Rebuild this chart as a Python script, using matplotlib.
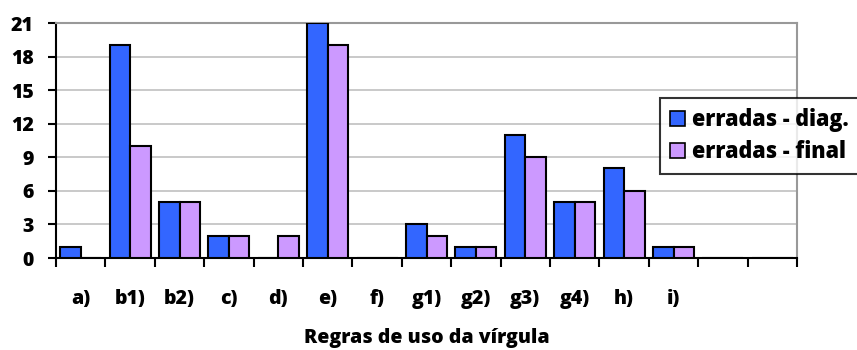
import matplotlib
matplotlib.use("Agg")
import matplotlib.pyplot as plt
import numpy as np

categories = ["a)", "b1)", "b2)", "c)", "d)", "e)", "f)", "g1)", "g2)", "g3)", "g4)", "h)", "i)", "", ""]
erradas_diag = [1, 19, 5, 2, 0, 21, 0, 3, 1, 11, 5, 8, 1, 0, 0]
erradas_final = [0, 10, 5, 2, 2, 19, 0, 2, 1, 9, 5, 6, 1, 0, 0]
series_labels = ["erradas - diag.", "erradas - final"]
y_ticks = [0, 3, 6, 9, 12, 15, 18, 21]

WEIGHT = "heavy"
plt.rcParams["font.family"] = ["Open Sans", "DejaVu Sans"]
plt.rcParams["font.weight"] = WEIGHT

fig = plt.figure(figsize=(8.57, 3.5), dpi=100)
W, H = 857, 350
ax = fig.add_axes([56 / W, (H - 258) / H, (797 - 56) / W, (258 - 23) / H])

x = np.arange(len(categories))
bw = 0.415
blue = "#3366FF"
lilac = "#CC99FF"
ax.bar(x - bw / 2, erradas_diag, bw, color=blue, edgecolor="black", linewidth=1.5,
       label=series_labels[0], zorder=3)
ax.bar(x + bw / 2, erradas_final, bw, color=lilac, edgecolor="black", linewidth=1.5,
       label=series_labels[1], zorder=3)

ax.set_xlim(-0.5, len(categories) - 0.5)
ax.set_ylim(0, 21)
ax.set_yticks(y_ticks)
ax.set_yticklabels([str(v) for v in y_ticks], fontsize=14, fontweight=WEIGHT)
ax.yaxis.grid(True, color="#C0C0C0", linewidth=1.2, zorder=0)
ax.set_axisbelow(True)

# category labels centred, ticks on category boundaries
ax.set_xticks(x)
ax.set_xticklabels(categories, fontsize=14, fontweight=WEIGHT)
ax.tick_params(axis="x", which="major", length=0, pad=22)
ax.set_xticks(np.arange(-0.5, len(categories)), minor=True)
ax.tick_params(axis="x", which="minor", length=6.5, width=1.5, color="black", direction="out")
ax.tick_params(axis="y", length=6, width=1.5, color="black", direction="out", pad=10)

for side in ["left", "bottom"]:
    ax.spines[side].set_color("black")
    ax.spines[side].set_linewidth(1.5)
for side in ["top", "right"]:
    ax.spines[side].set_color("#999999")
    ax.spines[side].set_linewidth(1.5)

ax.set_xlabel("Regras de uso da vírgula", fontsize=14, fontweight=WEIGHT, labelpad=14)

leg = fig.legend(loc="upper left", bbox_to_anchor=(660 / W, (H - 98) / H),
                 prop={"size": 15.5, "weight": WEIGHT}, frameon=True, fancybox=False,
                 edgecolor="black", handlelength=0.7, handleheight=0.7,
                 handletextpad=0.35, borderpad=0.45, labelspacing=0.4, borderaxespad=0)
leg.get_frame().set_linewidth(1.5)
for h in leg.legend_handles:
    h.set_linewidth(1.2)

fig.savefig("out.png", dpi=100)
